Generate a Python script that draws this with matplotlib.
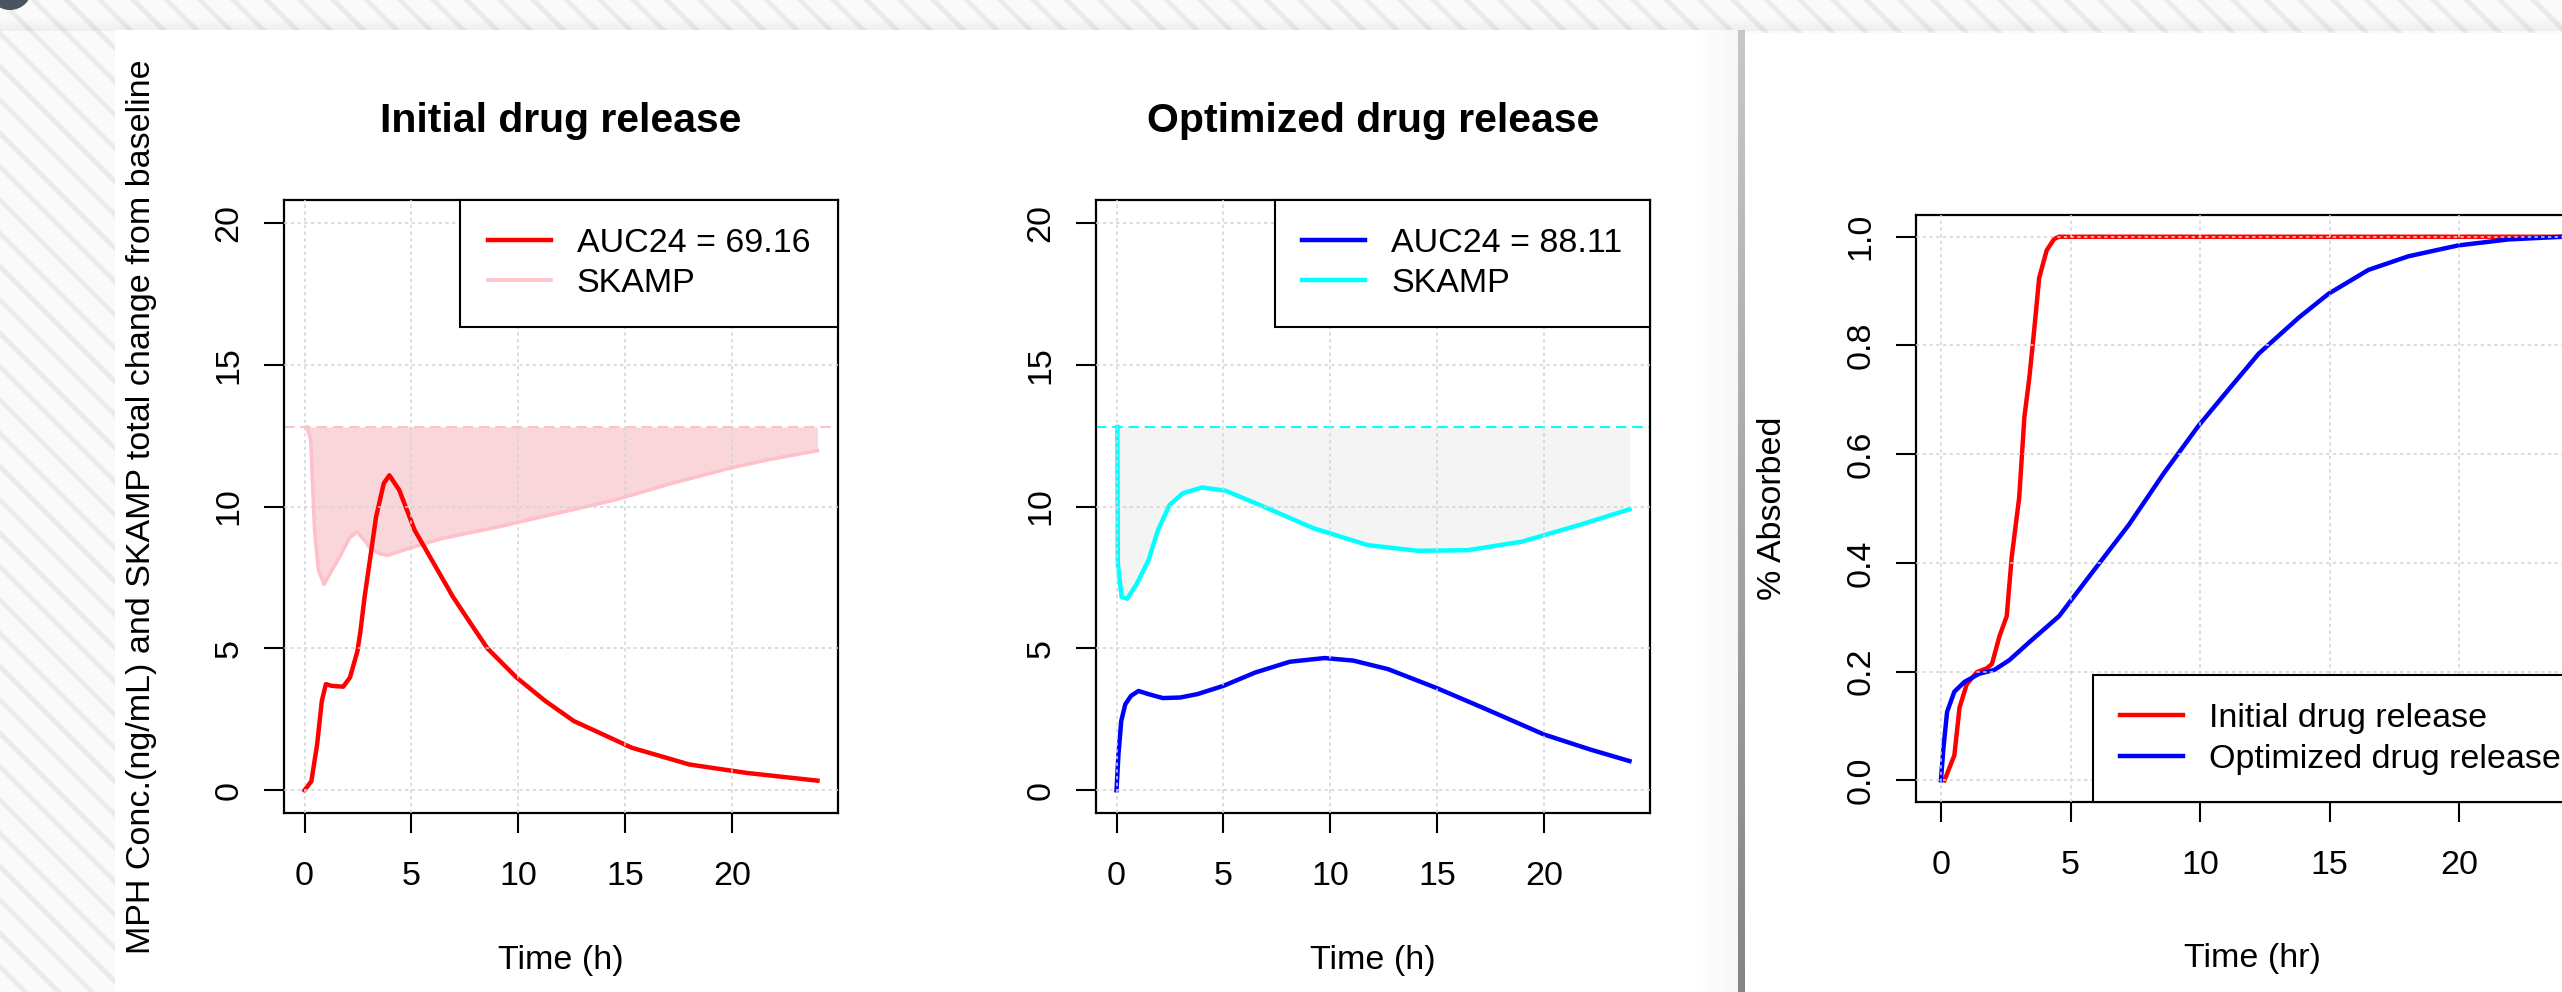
import matplotlib
matplotlib.use("Agg")
import matplotlib.pyplot as plt
import numpy as np
from matplotlib.patches import Rectangle, Circle

W, H, DPI = 2562, 992, 100

# ---- data ------------------------------------------------------------------
# Initial drug release: MPH concentration (ng/mL) against time (h)
INIT_T = [0, 0.32, 0.59, 0.81, 1.0, 1.27, 1.81, 2.13, 2.48, 2.62, 2.81, 3.08,
          3.35, 3.71, 3.97, 4.43, 5.15, 6.05, 6.95, 7.94, 8.56, 9.91, 11.26,
          12.6, 13.96, 15.31, 18.0, 20.71, 24.0]
INIT_CONC = [0, 0.32, 1.62, 3.15, 3.74, 3.68, 3.65, 3.98, 4.92, 5.63, 6.81,
             8.22, 9.64, 10.82, 11.1, 10.58, 9.17, 7.99, 6.81, 5.69, 5.0, 3.98,
             3.15, 2.44, 1.97, 1.50, 0.91, 0.61, 0.34]
# Initial drug release: SKAMP score
INIT_SKAMP_T = [0.11, 0.29, 0.47, 0.65, 0.92, 1.19, 1.64, 2.09, 2.45, 2.81,
                3.08, 3.53, 3.89, 4.61, 6.41, 9.11, 11.81, 14.51, 17.21, 19.9,
                21.7, 24.0]
INIT_SKAMP = [12.8, 12.35, 9.17, 7.75, 7.26, 7.63, 8.22, 8.87, 9.11, 8.81,
              8.52, 8.34, 8.28, 8.46, 8.87, 9.29, 9.76, 10.23, 10.82, 11.35,
              11.65, 11.97]

# Optimized drug release
OPT_T = [0, 0.09, 0.22, 0.41, 0.68, 1.03, 1.49, 2.17, 2.98, 3.79, 5.0, 6.49,
         8.11, 9.73, 11.08, 12.7, 14.99, 17.29, 19.99, 22.15, 24.0]
OPT_CONC = [0, 1.26, 2.44, 3.03, 3.33, 3.5, 3.39, 3.25, 3.27, 3.39, 3.68,
            4.15, 4.53, 4.66, 4.57, 4.27, 3.60, 2.86, 1.97, 1.44, 1.03]
OPT_SKAMP_T = [0.04, 0.06, 0.24, 0.5, 0.95, 1.5, 1.94, 2.48, 3.11, 4.01, 5.09,
               6.9, 9.23, 11.75, 14.09, 16.43, 18.96, 21.66, 24.0]
OPT_SKAMP = [12.8, 7.99, 6.81, 6.75, 7.28, 8.11, 9.17, 10.05, 10.47, 10.67,
             10.56, 9.99, 9.23, 8.64, 8.44, 8.46, 8.76, 9.35, 9.9]

SKAMP_BASELINE = 12.8
AUC_INIT = "AUC24 = 69.16"
AUC_OPT = "AUC24 = 88.11"

# Fraction absorbed against time (hr)
ABS_INIT_T = [0.14, 0.52, 0.72, 1.0, 1.39, 1.77, 1.97, 2.26, 2.54, 2.73, 3.02,
              3.22, 3.41, 3.6, 3.79, 4.08, 4.37, 4.56, 24.0]
ABS_INIT = [0, 0.046, 0.134, 0.177, 0.199, 0.206, 0.214, 0.265, 0.302, 0.41,
            0.52, 0.668, 0.74, 0.829, 0.924, 0.975, 0.996, 1.0, 1.0]
ABS_OPT_T = [0, 0.1, 0.24, 0.52, 0.91, 1.48, 2.06, 2.64, 3.41, 4.56, 5.72,
             7.25, 8.6, 9.95, 11.1, 12.26, 13.8, 14.95, 16.49, 18.03, 19.95,
             21.87, 24.0]
ABS_OPT = [0, 0.06, 0.126, 0.163, 0.181, 0.196, 0.203, 0.221, 0.254, 0.302,
           0.375, 0.47, 0.565, 0.653, 0.719, 0.785, 0.851, 0.895, 0.939,
           0.964, 0.984, 0.995, 1.0]

X_TICKS = [0, 5, 10, 15, 20]
CONC_TICKS = [0, 5, 10, 15, 20]
ABS_TICKS = [0.0, 0.2, 0.4, 0.6, 0.8, 1.0]

plt.rcParams["font.family"] = ["Liberation Sans", "DejaVu Sans"]
plt.rcParams["hatch.linewidth"] = 3.5
FS = 24.5


def px_axes(fig, left, top, right, bottom):
    """Axes placed from pixel edges (top-left origin)."""
    return fig.add_axes([left / W, (H - bottom) / H,
                         (right - left) / W, (bottom - top) / H])


def r_style(ax, ylim, yticks, ylabels):
    ax.set_xlim(-0.96, 24.96)
    ax.set_ylim(*ylim)
    ax.set_xticks(X_TICKS, [str(t) for t in X_TICKS])
    ax.set_yticks(yticks, ylabels, rotation=90, va="center")
    ax.grid(True, color="#d3d3d3", linestyle=(0, (2.2, 2.2)), linewidth=1.1)
    ax.set_axisbelow(False)
    ax.tick_params(length=14.4, width=1.5, labelsize=FS, direction="out")
    ax.tick_params(axis="x", pad=20)
    ax.tick_params(axis="y", pad=14)
    for spine in ax.spines.values():
        spine.set_linewidth(1.6)


def r_legend(ax, loc, anchor, pad, spacing):
    leg = ax.legend(loc=loc, bbox_to_anchor=anchor, borderaxespad=0,
                    fontsize=FS, fancybox=False, framealpha=1,
                    edgecolor="black", handlelength=1.85, handletextpad=0.75,
                    borderpad=pad, labelspacing=spacing)
    leg.get_frame().set_linewidth(1.5)
    return leg


fig = plt.figure(figsize=(W / DPI, H / DPI), dpi=DPI)

# ---- screenshot backdrop ---------------------------------------------------
bg = fig.add_axes([0, 0, 1, 1], zorder=-5)
bg.add_patch(Rectangle((0, 0), W, H, facecolor="#fafafa",
                       edgecolor="#ebebeb", hatch="\\", linewidth=0))
for i in range(10):
    bg.add_patch(Rectangle((0, 17 + i * 1.4), W, 1.4, facecolor="black",
                           alpha=0.005 * i, linewidth=0))
bg.add_patch(Circle((10, -12), 22, facecolor="#4b5360", linewidth=0))
bg.add_patch(Rectangle((115, 30), 1623, H - 30, facecolor="white",
                       linewidth=0))
for i in range(12):
    bg.add_patch(Rectangle((1690 + i * 4, 30), 4, H - 30, facecolor="black",
                           alpha=0.003 * i, linewidth=0))
bg.add_patch(Rectangle((1745, 33), W - 1745, H - 33, facecolor="white",
                       linewidth=0))
shade = np.linspace(0.78, 0.52, 60).reshape(-1, 1)
bg.imshow(shade, cmap="gray", vmin=0, vmax=1, aspect="auto",
          extent=(1738, 1745, H, 30), interpolation="bilinear", zorder=3)
bg.set_xlim(0, W)
bg.set_ylim(H, 0)
bg.axis("off")

# ---- panel 1: initial drug release ----------------------------------------
ax1 = px_axes(fig, 284, 200, 838, 813)
ax1.fill_between(INIT_SKAMP_T, INIT_SKAMP, SKAMP_BASELINE, color="#f9d6da",
                 linewidth=0, zorder=1)
ax1.axhline(SKAMP_BASELINE, color="pink", linestyle=(0, (5, 2.8)),
            linewidth=1.5, zorder=1.2)
ax1.plot(INIT_T, INIT_CONC, color="red", linewidth=3.2, label=AUC_INIT,
         zorder=2)
ax1.plot(INIT_SKAMP_T, INIT_SKAMP, color="pink", linewidth=2.6, label="SKAMP",
         zorder=1.5)
r_style(ax1, (-0.8, 20.8), CONC_TICKS, [str(t) for t in CONC_TICKS])
ax1.set_title("Initial drug release", fontsize=29.5, fontweight="bold",
              pad=0, y=1.111)
ax1.set_xlabel("Time (h)", fontsize=FS)
ax1.xaxis.set_label_coords(0.5, -0.24)
ax1.xaxis.label.set_va("center")
ax1.set_ylabel("MPH Conc.(ng/mL) and SKAMP total change from baseline",
               fontsize=FS)
ax1.yaxis.set_label_coords(-0.258, 0.5)
ax1.yaxis.label.set_va("center")
r_legend(ax1, "upper right", (1, 1), 0.82, 0.27)

# ---- panel 2: optimized drug release --------------------------------------
ax2 = px_axes(fig, 1096, 200, 1650, 813)
ax2.fill_between(OPT_SKAMP_T, OPT_SKAMP, SKAMP_BASELINE, color="#f4f4f4",
                 linewidth=0, zorder=1)
ax2.axhline(SKAMP_BASELINE, color="cyan", linestyle=(0, (5, 2.8)),
            linewidth=1.5, zorder=1.2)
ax2.plot(OPT_T, OPT_CONC, color="blue", linewidth=3.2, label=AUC_OPT,
         zorder=2)
ax2.plot(OPT_SKAMP_T, OPT_SKAMP, color="cyan", linewidth=3.2, label="SKAMP",
         zorder=1.5)
r_style(ax2, (-0.8, 20.8), CONC_TICKS, [str(t) for t in CONC_TICKS])
ax2.set_title("Optimized drug release", fontsize=29.5, fontweight="bold",
              pad=0, y=1.111)
ax2.set_xlabel("Time (h)", fontsize=FS)
ax2.xaxis.set_label_coords(0.5, -0.24)
ax2.xaxis.label.set_va("center")
r_legend(ax2, "upper right", (1, 1), 0.82, 0.27)

# ---- panel 3: fraction absorbed (cut off at the right edge) ---------------
ax3 = px_axes(fig, 1916, 215, 2588, 802)
ax3.plot(ABS_INIT_T, ABS_INIT, color="red", linewidth=3.2,
         label="Initial drug release")
ax3.plot(ABS_OPT_T, ABS_OPT, color="blue", linewidth=3.2,
         label="Optimized drug release")
r_style(ax3, (-0.04, 1.04), ABS_TICKS, [f"{t:.1f}" for t in ABS_TICKS])
ax3.set_xlabel("Time (hr)", fontsize=FS)
ax3.xaxis.set_label_coords(0.5, -0.266)
ax3.xaxis.label.set_va("center")
ax3.set_ylabel("% Absorbed", fontsize=FS)
ax3.yaxis.set_label_coords(-0.214, 0.5)
ax3.yaxis.label.set_va("center")
r_legend(ax3, "lower right", (1, 0), 0.8, 0.3)

fig.savefig("out.png", dpi=DPI)
